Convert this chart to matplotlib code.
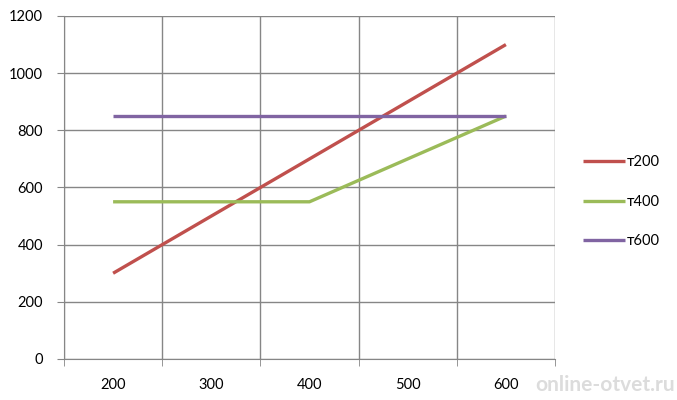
import matplotlib
matplotlib.use("Agg")
import matplotlib.pyplot as plt
import numpy as np

categories = ["200", "300", "400", "500", "600"]
t200 = [300, 500, 700, 900, 1100]
t400 = [550, 550, 550, 700, 850]
t600 = [850, 850, 850, 850, 850]
series_names = ["т200", "т400", "т600"]
colors = ["#C0504D", "#9BBB59", "#8064A2"]

plt.rcParams['font.family'] = ['Lato', 'DejaVu Sans']

fig = plt.figure(figsize=(6.77, 4.00), dpi=100)
ax = fig.add_axes([64/677, 1-359/400, (555-64)/677, (359-16)/400])

x = np.arange(len(categories))
for vals, name, c in zip([t200, t400, t600], series_names, colors):
    ax.plot(x, vals, color=c, lw=2.4, label=name, solid_capstyle='butt')

ax.set_xlim(-0.5, len(categories) - 0.5)
ax.set_ylim(0, 1200)
ax.set_yticks(np.arange(0, 1201, 200))
ax.set_xticks(x)
ax.set_xticklabels(categories)
ax.set_xticks(np.arange(-0.5, len(categories), 1), minor=True)

gc = "#868686"
ax.grid(True, which='minor', axis='x', color=gc, lw=1)
ax.grid(True, which='major', axis='y', color=gc, lw=1)
for s in ax.spines.values():
    s.set_visible(False)
ax.spines['bottom'].set_visible(True)
ax.spines['bottom'].set_color(gc)
ax.spines['left'].set_visible(True)
ax.spines['left'].set_color(gc)

ax.tick_params(axis='x', which='major', length=0, pad=14, labelsize=10.5, colors='black')
ax.tick_params(axis='x', which='minor', length=5, color=gc, direction='out')
ax.tick_params(axis='y', which='major', length=5, color=gc, direction='out', pad=10, labelsize=10.5)

leg = ax.legend(loc='center left', bbox_to_anchor=(1.03, 0.458), frameon=False,
                fontsize=10.5, handlelength=2.9, handletextpad=0.1, labelspacing=1.75)

fig.text(675/677, 1-385/400, "online-otvet.ru", ha='right', va='center', fontsize=15,
         fontweight='bold', color='#dcdcdc')

fig.savefig("out.png", dpi=100)
